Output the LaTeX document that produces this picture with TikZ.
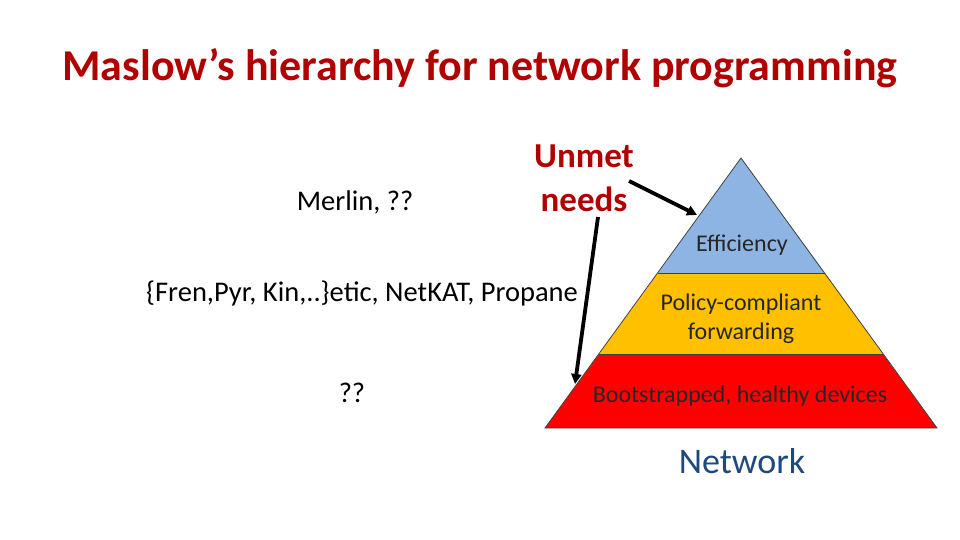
\documentclass[tikz,border=0pt]{standalone}
\usepackage{fontspec}
\setmainfont{Carlito}
\usetikzlibrary{arrows.meta}
\definecolor{titlered}{HTML}{B00000}
\definecolor{lvlblue}{HTML}{8EB4E3}
\definecolor{lvlyellow}{HTML}{FFC000}
\definecolor{lvlred}{HTML}{FF0000}
\definecolor{netblue}{HTML}{1F497D}
\tikzset{
  lvl/.style={draw=black!75, line width=0.8pt},
  lbl/.style={font=\fontsize{24}{29}\selectfont, text=black!85, align=center, inner sep=0pt},
  side/.style={font=\fontsize{28.5}{32}\selectfont, text=black, inner sep=0pt},
  red/.style={font=\fontsize{35}{44}\selectfont\bfseries, text=titlered, align=center, inner sep=0pt},
  arr/.style={line width=3.8pt, -{Triangle[length=10pt,width=10pt]}, black}
}
\begin{document}
\begin{tikzpicture}[x=1pt,y=-1pt]
\useasboundingbox (0,0) rectangle (960,540);
% pyramid
\coordinate (apex) at (741,158);
\coordinate (bl) at (545,428);
\coordinate (br) at (937,428);
\coordinate (m1l) at (658,273);
\coordinate (m1r) at (825,273);
\coordinate (m2l) at (599,354);
\coordinate (m2r) at (883,354);
\fill[lvlred] (m2l) -- (m2r) -- (br) -- (bl) -- cycle;
\fill[lvlyellow] (m1l) -- (m1r) -- (m2r) -- (m2l) -- cycle;
\fill[lvlblue] (apex) -- (m1r) -- (m1l) -- cycle;
\draw[lvl] (apex) -- (br) -- (bl) -- cycle;
\draw[lvl] (m1l) -- (m1r);
\draw[lvl] (m2l) -- (m2r);
% title
\node[font=\fontsize{44}{50}\selectfont\bfseries, text=titlered, inner sep=0pt] (title) at (480,68) {Maslow’s hierarchy for network programming};
% labels
\node[lbl] (eff) at (742,245) {Efficiency};
\node[lbl] (pol) at (741,319) {Policy-compliant\\forwarding};
\node[lbl] (boot) at (740,396) {Bootstrapped, healthy devices};
\node[font=\fontsize{36}{40}\selectfont, text=netblue, inner sep=0pt] (net) at (742,461) {Network};
\node[side] (merlin) at (355,202) {Merlin, ??};
\node[side] (fren) at (362,293) {\{Fren,Pyr, Kin,..\}etic, NetKAT, Propane};
\node[side] (qq) at (352,393) {??};
\node[red] (unmet) at (584,178) {Unmet\\needs};
% arrows
\coordinate (s1) at (629,181);
\coordinate (e1) at (697,215);
\coordinate (s2) at (598,217);
\coordinate (e2) at (575,384);
\draw[arr] (s1) -- (e1);
\draw[arr] (s2) -- (e2);
\end{tikzpicture}
\end{document}
